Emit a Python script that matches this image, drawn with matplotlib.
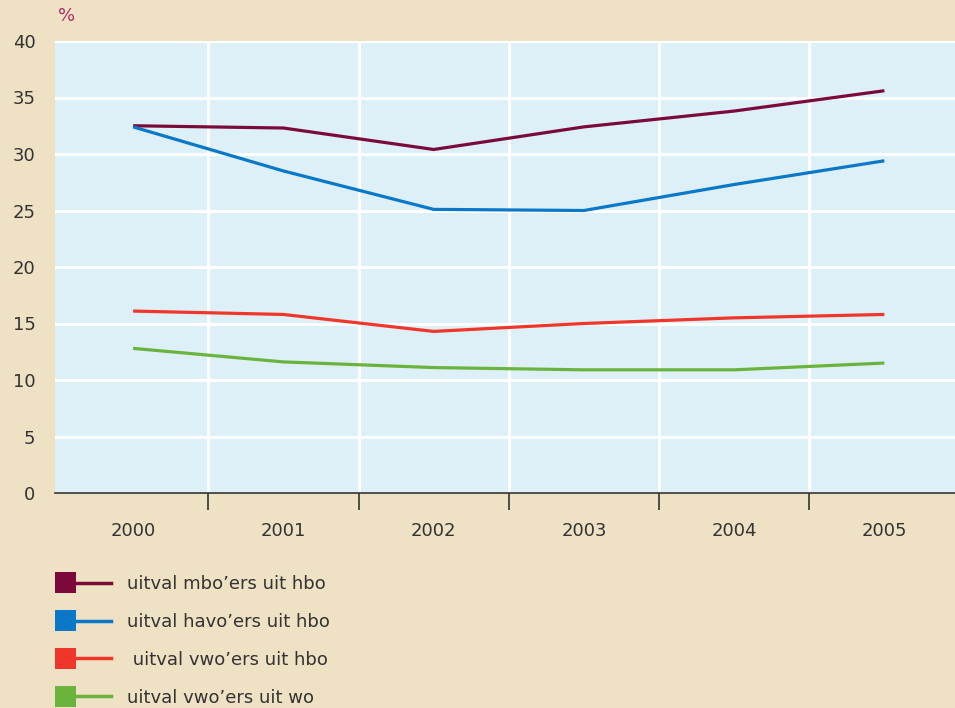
import numpy as np
import matplotlib
matplotlib.use("Agg")
import matplotlib.pyplot as plt
from matplotlib.lines import Line2D
from matplotlib.patches import Rectangle
from matplotlib.legend_handler import HandlerBase

# values (%)
years = ["2000", "2001", "2002", "2003", "2004", "2005"]
mbo_hbo = [32.5, 32.3, 30.4, 32.4, 33.8, 35.6]
havo_hbo = [32.4, 28.5, 25.1, 25.0, 27.3, 29.4]
vwo_hbo = [16.1, 15.8, 14.3, 15.0, 15.5, 15.8]
vwo_wo = [12.8, 11.6, 11.1, 10.9, 10.9, 11.5]

labels = ["uitval mbo\u2019ers uit hbo", "uitval havo\u2019ers uit hbo",
          " uitval vwo\u2019ers uit hbo", "uitval vwo\u2019ers uit wo"]
colors = ["#7b0a3a", "#0a78c8", "#f0362a", "#6ab43e"]

bg = "#efe1c4"
plotbg = "#ddf0f7"
txt = "#333333"

plt.rcParams['font.family'] = ['DejaVu Sans']

fig = plt.figure(figsize=(9.55, 7.08), dpi=100, facecolor=bg)
ax = fig.add_axes([55/955, 1 - 493/708, 1 - 55/955, (493 - 41)/708])
ax.set_facecolor(plotbg)

x = np.arange(len(years))
for vals, c, lab in zip([mbo_hbo, havo_hbo, vwo_hbo, vwo_wo], colors, labels):
    ax.plot(x, vals, color=c, lw=2.3, label=lab, zorder=3, solid_capstyle='butt')

ax.set_xlim(-0.52, 5.47)
ax.set_ylim(0, 40)

# boundaries between years carry tick marks + grid, labels sit at centres
ax.set_xticks(x[:-1] + 0.5)
ax.set_xticklabels([])
ax.set_xticks(x, minor=True)
ax.set_xticklabels(years, minor=True)
ax.tick_params(axis='x', which='major', direction='out', length=12, width=1.2, color=txt)
ax.tick_params(axis='x', which='minor', length=0, pad=21, labelsize=13, labelcolor=txt)

ax.set_yticks(np.arange(0, 41, 5))
ax.tick_params(axis='y', length=0, pad=14, labelsize=13, labelcolor=txt)

ax.grid(True, which='major', color='white', lw=2.2)
ax.set_axisbelow(True)
for sp in ['top', 'right', 'left']:
    ax.spines[sp].set_visible(False)
ax.spines['bottom'].set_color(txt)
ax.spines['bottom'].set_linewidth(1.2)

ax.text(0.003, 1.035, "%", transform=ax.transAxes, color="#a8306a", fontsize=13,
        ha='left', va='bottom')


class SquareLine(HandlerBase):
    def create_artists(self, legend, orig, xd, yd, width, height, fontsize, trans):
        c = orig.get_color()
        s = 15
        y0 = height / 2 - yd
        sq = Rectangle((-xd, y0 - s / 2), s, s, facecolor=c, edgecolor='none', transform=trans)
        ln = Line2D([-xd + s, -xd + width], [y0, y0], color=c, lw=2.5, transform=trans)
        return [sq, ln]


handles, labs = ax.get_legend_handles_labels()
fig.legend(handles, labs, loc='upper left', bbox_to_anchor=(55/955, 1 - 575/708),
           frameon=False, fontsize=13, labelcolor=txt, handlelength=3.1,
           handletextpad=0.9, labelspacing=1.1, borderaxespad=0, borderpad=0,
           handler_map={Line2D: SquareLine()})

fig.savefig("out.png", dpi=100, facecolor=bg)
